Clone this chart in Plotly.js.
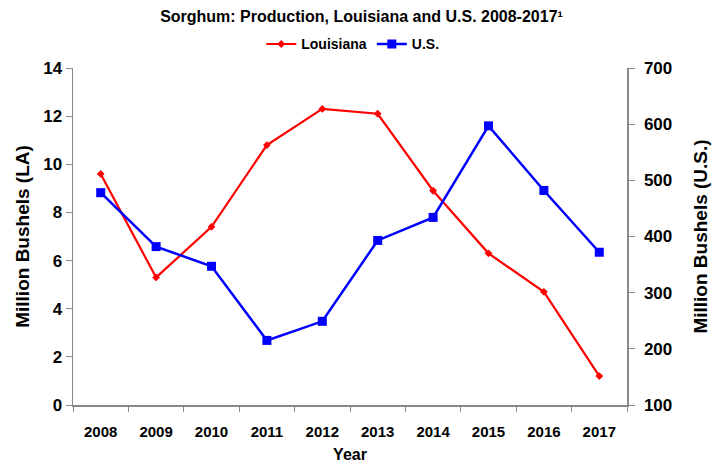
<!DOCTYPE html>
<html><head><meta charset="utf-8">
<script src="https://cdn.plot.ly/plotly-3.0.1.min.js"></script>
<style>body{margin:0;background:#fff}#chart{width:723px;height:470px}</style>
</head><body><div id="chart"></div>
<script>
const years = ['2008','2009','2010','2011','2012','2013','2014','2015','2016','2017'];
const louisiana = [9.6, 5.3, 7.4, 10.8, 12.3, 12.1, 8.9, 6.3, 4.7, 1.2];
const us = [478, 382, 347, 215, 249, 393, 434, 597, 482, 372];

const traces = [
  {x: years, y: louisiana, name: 'Louisiana', type: 'scatter', mode: 'lines+markers',
   line: {color: '#ff0000', width: 2.2},
   marker: {symbol: 'diamond', size: 6, color: '#ff0000'}, yaxis: 'y'},
  {x: years, y: us, name: 'U.S.', type: 'scatter', mode: 'lines+markers',
   line: {color: '#0000ff', width: 2.5},
   marker: {symbol: 'square', size: 9, color: '#0000ff'}, yaxis: 'y2'}
];

const layout = {
  width: 723, height: 470,
  margin: {l: 73, r: 96, t: 68, b: 65},
  paper_bgcolor: '#fff', plot_bgcolor: '#fff',
  font: {family: 'Arial, Liberation Sans, sans-serif', color: '#000'},
  title: {text: 'Sorghum: Production, Louisiana and U.S. 2008-2017¹', x: 0.5, xanchor: 'center', y: 0.978, yanchor: 'top',
          font: {size: 16, family: 'Arial, Liberation Sans, sans-serif', weight: 'bold'}},
  showlegend: true,
  legend: {orientation: 'h', x: 0.505, xanchor: 'center', y: 1.07, yanchor: 'middle',
           font: {size: 14, weight: 'bold'}, itemwidth: 30, traceorder: 'normal'},
  xaxis: {type: 'category', showgrid: false, showline: true, linecolor: '#888', linewidth: 1.5,
          ticks: 'outside', tickson: 'boundaries', ticklen: 5, tickcolor: '#888', ticklabelstandoff: 12,
          tickfont: {size: 15, family: 'Liberation Sans, Arial, sans-serif', weight: 'bold'},
          title: {text: 'Year', font: {size: 16, weight: 'bold'}, standoff: 10},
          zeroline: false, range: [-0.5, 9.5]},
  yaxis: {range: [0, 14], dtick: 2, showgrid: false, showline: true, linecolor: '#888', linewidth: 1.5,
          ticks: 'outside', ticklen: 6, tickcolor: '#888', zeroline: false,
          tickfont: {size: 17, weight: 'bold'},
          title: {text: 'Million Bushels (LA)', font: {size: 19, weight: 'bold'}, standoff: 8}},
  yaxis2: {range: [100, 700], dtick: 100, overlaying: 'y', side: 'right', showgrid: false, showline: true,
           linecolor: '#888', linewidth: 1.5, ticks: 'outside', ticklen: 6, tickcolor: '#888', zeroline: false,
           tickfont: {size: 17, weight: 'bold'}, ticklabelstandoff: 6,
           title: {text: 'Million Bushels (U.S.)', font: {size: 19, weight: 'bold'}, standoff: 22}}
};

Plotly.newPlot('chart', traces, layout, {displayModeBar: false, staticPlot: true});
</script></body></html>
